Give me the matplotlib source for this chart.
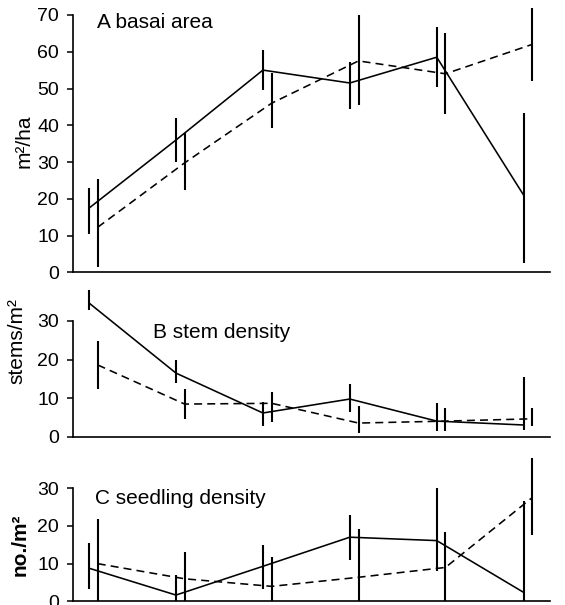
import matplotlib
matplotlib.use("Agg")
import matplotlib.pyplot as plt
import numpy as np

plt.rcParams['font.family'] = ['Liberation Sans', 'DejaVu Sans']

# x positions (six sampling stages)
stages = [1, 2, 3, 4, 5, 6]

# Panel A: basal area (m2/ha)
A_solid = [17.5, 36, 55, 51.5, 58.5, 21]
A_solid_lo = [10.5, 30, 49.5, 44.3, 50.5, 2.7]
A_solid_hi = [23, 42, 60.5, 57.3, 66.7, 43.4]
A_dashed = [12.3, 29.8, 46, 57.5, 54, 62]
A_dashed_lo = [1.4, 22.5, 39.3, 45.5, 43, 52]
A_dashed_hi = [25.5, 38, 54.3, 70, 65, 72]

# Panel B: stem density (stems/m2)
B_solid = [34.6, 16.5, 6.2, 9.8, 4.1, 3.1]
B_solid_lo = [32.8, 14, 2.8, 6.5, 1.5, 1.8]
B_solid_hi = [38, 20, 9, 13.7, 8.8, 15.5]
B_dashed = [18.6, 8.5, 8.7, 3.6, 4.1, 4.7]
B_dashed_lo = [12.4, 4.7, 3.9, 1.0, 1.5, 2.8]
B_dashed_hi = [24.8, 12.4, 11.6, 8.0, 7.5, 7.5]

# Panel C: seedling density (no./m2)
C_solid = [8.8, 1.7, 9.3, 17, 16.1, 2.4]
C_solid_lo = [3.4, 0, 3.4, 10.9, 8, 0]
C_solid_hi = [15.4, 7, 15, 22.8, 30, 26.7]
C_dashed = [10, 6, 4, 6.4, 9, 27.5]
C_dashed_lo = [0, 0, 0, 0, 0, 17.5]
C_dashed_hi = [21.7, 13, 11.7, 19.2, 18.4, 38]

panels = [
    dict(title="A basai area", ylabel="m²/ha", ticks=[0, 10, 20, 30, 40, 50, 60, 70],
         ytop=73, solid=(A_solid, A_solid_lo, A_solid_hi),
         dashed=(A_dashed, A_dashed_lo, A_dashed_hi),
         rect=[0.129, 0.5496, 0.844, 0.444], tpos=(97, 22), lpos=(24, 141),
         lweight="normal"),
    dict(title="B stem density", ylabel="stems/m²", ticks=[0, 10, 20, 30],
         ytop=39, solid=(B_solid, B_solid_lo, B_solid_hi),
         dashed=(B_dashed, B_dashed_lo, B_dashed_hi),
         rect=[0.129, 0.2777, 0.844, 0.2496], tpos=(153, 332), lpos=(17, 341),
         lweight="normal"),
    dict(title="C seedling density", ylabel="no./m²", ticks=[0, 10, 20, 30],
         ytop=39, solid=(C_solid, C_solid_lo, C_solid_hi),
         dashed=(C_dashed, C_dashed_lo, C_dashed_hi),
         rect=[0.129, 0.0058, 0.844, 0.2438], tpos=(95, 498), lpos=(20, 545),
         lweight="bold"),
]

W, H = 565, 605
fig = plt.figure(figsize=(W / 100, H / 100), dpi=100)
x = np.array(stages, dtype=float)
off = 0.05

for p in panels:
    ax = fig.add_axes(p["rect"])
    ax.patch.set_alpha(0)
    for (vals, lo, hi), dx, ls in [(p["solid"], -off, "-"), (p["dashed"], off, (0, (5, 3.2)))]:
        xx = x + dx
        ax.plot(xx, vals, color="black", lw=1.15, linestyle=ls, clip_on=False)
        ax.vlines(xx, lo, hi, color="black", lw=1.5, clip_on=False)
    ax.set_xlim(0.764, 6.25)
    ax.set_ylim(0, p["ytop"])
    ax.set_yticks(p["ticks"])
    ax.set_yticklabels([str(t) for t in p["ticks"]], fontsize=14)
    ax.set_xticks([])
    for s in ["top", "right"]:
        ax.spines[s].set_visible(False)
    ax.spines["left"].set_bounds(0, p["ticks"][-1])
    ax.spines["left"].set_linewidth(1.2)
    ax.spines["bottom"].set_linewidth(1.2)
    ax.tick_params(axis="y", direction="out", length=4, width=1.1, pad=6)
    fig.text(p["lpos"][0] / W, 1 - p["lpos"][1] / H, p["ylabel"], fontsize=15,
             rotation=90, ha="center", va="center", fontweight=p["lweight"])
    fig.text(p["tpos"][0] / W, 1 - p["tpos"][1] / H, p["title"], fontsize=15,
             ha="left", va="center")

fig.savefig("out.png", dpi=100)
